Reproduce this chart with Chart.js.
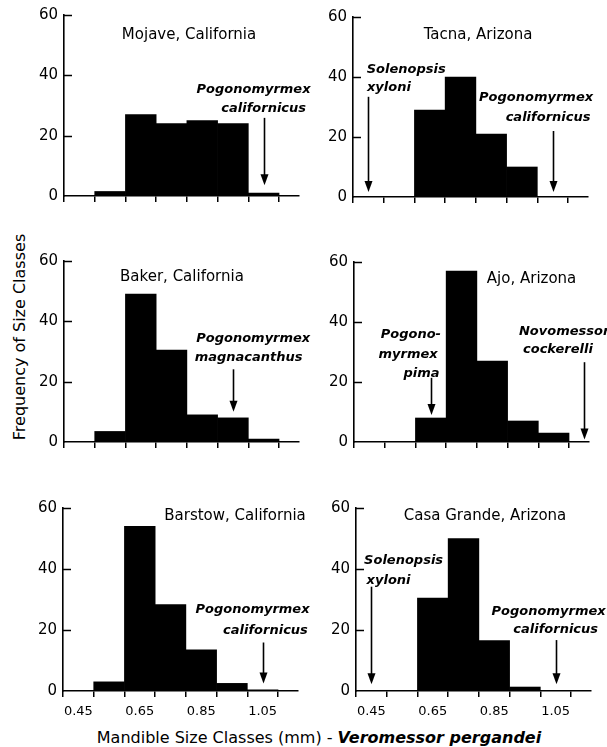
<!DOCTYPE html>
<html><head><meta charset="utf-8">
<script src="https://cdn.jsdelivr.net/npm/chart.js@4.4.1/dist/chart.umd.min.js"></script>
<style>
html,body{margin:0;padding:0;background:#fff;}
#wrap{position:relative;width:607px;height:747px;overflow:hidden;background:#fff;}
canvas{position:absolute;}
.ylab{position:absolute;left:19px;top:337px;transform:translate(-50%,-50%) rotate(-90deg);font:16px 'DejaVu Sans';white-space:nowrap;color:#000;}
.xlab{position:absolute;left:319px;top:737px;transform:translate(-50%,-50%);font:16px 'DejaVu Sans';white-space:nowrap;color:#000;}
.xlab i{font-weight:bold;}
</style></head><body>
<div id="wrap">
  <div class="ylab">Frequency of Size Classes</div>
  <div class="xlab">Mandible Size Classes (mm) - <i>Veromessor pergandei</i></div>
</div>
<script>
// ---------- data ----------
const sizeClasses = [0.55, 0.65, 0.75, 0.85, 0.95, 1.05];
const xTickValues = [0.45, 0.55, 0.65, 0.75, 0.85, 0.95, 1.05, 1.15];
const xTickLabels = ['0.45', '', '0.65', '', '0.85', '', '1.05', ''];
const yTickValues = [0, 20, 40, 60];

const mojave     = [1.5, 27, 24, 25, 24, 1];
const tacna      = [0, 29, 40, 21, 10, 0];
const baker      = [3.5, 49, 30.5, 9, 8, 1];
const ajo        = [0, 8, 57, 27, 7, 3];
const barstow    = [3, 54, 28.3, 13.5, 2.5, 0.4];
const casaGrande = [0, 30.5, 50, 16.5, 1.3, 0];

const siteNames = ['Mojave, California', 'Tacna, Arizona', 'Baker, California',
                   'Ajo, Arizona', 'Barstow, California', 'Casa Grande, Arizona'];

// mandible size (mm) of competing species, marked by arrows
const mojaveArrowX     = [1.05];
const tacnaArrowX      = [0.45, 1.05];
const bakerArrowX      = [0.95];
const ajoArrowX        = [0.65, 1.15];
const barstowArrowX    = [1.05];
const casaGrandeArrowX = [0.45, 1.05];

const mojaveArrowText     = [['Pogonomyrmex', 'californicus']];
const tacnaArrowText      = [['Solenopsis', 'xyloni'], ['Pogonomyrmex', 'californicus']];
const bakerArrowText      = [['Pogonomyrmex', 'magnacanthus']];
const ajoArrowText        = [['Pogono-', 'myrmex', 'pima'], ['Novomessor', 'cockerelli']];
const barstowArrowText    = [['Pogonomyrmex', 'californicus']];
const casaGrandeArrowText = [['Solenopsis', 'xyloni'], ['Pogonomyrmex', 'californicus']];

// ---------- layout (pixel frame of each panel, label anchors in data units) ----------
const frames = [
  {L: 64,  T: 12,  B: 196},
  {L: 353, T: 14,  B: 197},
  {L: 64,  T: 258, B: 442},
  {L: 354, T: 259, B: 442},
  {L: 63,  T: 505, B: 691},
  {L: 356, T: 505, B: 691}
];
const showXLabels = [false, false, false, false, true, true];
const titlePos = [[0.807, 53.2], [0.807, 54.1], [0.784, 54.5], [0.978, 54.2], [0.960, 57.3], [0.820, 57.3]];
// per arrow: [topValue, bottomValue, [[x,y] per text line]]
const arrowLayout = [
  [[25.9, 3.6, [[1.017, 35.1], [1.050, 28.9]]]],
  [[33.4, 1.7, [[0.573, 42.6], [0.517, 36.4]]], [22.0, 1.7, [[0.996, 33.1], [1.035, 26.6]]]],
  [[24.1, 10.0, [[1.016, 34.4], [1.001, 28.1]]]],
  [[21.4, 9.0, [[0.585, 35.8], [0.576, 29.2], [0.620, 22.8]]], [26.6, 0.8, [[1.084, 36.9], [1.064, 30.7]]]],
  [[15.9, 2.5, [[1.017, 26.7], [1.059, 19.7]]]],
  [[34.2, 2.2, [[0.555, 42.6], [0.506, 36.1]]], [16.7, 2.2, [[1.027, 26.1], [1.050, 20.2]]]]
];

const seriesList = [mojave, tacna, baker, ajo, barstow, casaGrande];
const arrowXList = [mojaveArrowX, tacnaArrowX, bakerArrowX, ajoArrowX, barstowArrowX, casaGrandeArrowX];
const arrowTextList = [mojaveArrowText, tacnaArrowText, bakerArrowText, ajoArrowText, barstowArrowText, casaGrandeArrowText];

const X_MIN = 0.40, X_MAX = 1.165;
const AREA_W = 235, Y_AXIS_W = 60, X_AXIS_H = 40, PAD_TOP = 12, PAD_RIGHT = 25;
const FONT = "'DejaVu Sans'";

const annotPlugin = {
  id: 'annot',
  afterDatasetsDraw(chart) {
    const o = chart.options.plugins.annot;
    const xs = chart.scales.x, ys = chart.scales.y, ctx = chart.ctx;
    ctx.save();
    ctx.strokeStyle = '#000'; ctx.fillStyle = '#000';
    // inward y ticks
    ctx.lineWidth = 1.5;
    yTickValues.forEach(v => {
      if (v === 0) return;
      const y = Math.round(ys.getPixelForValue(v)) + 0.5;
      ctx.beginPath(); ctx.moveTo(chart.chartArea.left - 1, y); ctx.lineTo(chart.chartArea.left + 8, y); ctx.stroke();
    });
    // title
    ctx.font = '15px ' + FONT;
    ctx.textAlign = 'center'; ctx.textBaseline = 'middle';
    ctx.fillText(o.title, xs.getPixelForValue(o.titlePos[0]), ys.getPixelForValue(o.titlePos[1]));
    // arrows + labels
    o.arrowX.forEach((ax, i) => {
      const [top, bottom, lines] = o.layout[i];
      const x = Math.round(xs.getPixelForValue(ax)) + 0.5;
      const y1 = ys.getPixelForValue(top), y2 = ys.getPixelForValue(bottom);
      ctx.lineWidth = 1.6;
      ctx.beginPath(); ctx.moveTo(x, y1); ctx.lineTo(x, y2 - 8); ctx.stroke();
      ctx.beginPath(); ctx.moveTo(x - 4, y2 - 11); ctx.lineTo(x + 4, y2 - 11); ctx.lineTo(x, y2); ctx.closePath(); ctx.fill();
      ctx.font = 'italic bold 13px ' + FONT;
      o.arrowText[i].forEach((t, j) => {
        ctx.fillText(t, xs.getPixelForValue(lines[j][0]), ys.getPixelForValue(lines[j][1]));
      });
    });
    ctx.restore();
  }
};

const wrap = document.getElementById('wrap');
frames.forEach((f, p) => {
  const cv = document.createElement('canvas');
  const w = Y_AXIS_W + AREA_W + PAD_RIGHT;
  const h = PAD_TOP + (f.B - f.T) + X_AXIS_H;
  cv.width = w; cv.height = h;
  cv.style.left = (f.L - Y_AXIS_W) + 'px';
  cv.style.top = (f.T - PAD_TOP) + 'px';
  cv.style.width = w + 'px'; cv.style.height = h + 'px';
  wrap.appendChild(cv);
  const showLab = showXLabels[p];
  new Chart(cv, {
    type: 'bar',
    data: {
      datasets: [{
        data: sizeClasses.map((c, i) => ({x: c, y: seriesList[p][i]})),
        backgroundColor: '#000', borderWidth: 0,
        barPercentage: 1.0, categoryPercentage: 1.0
      }]
    },
    options: {
      responsive: false, animation: false, devicePixelRatio: 1, events: [],
      layout: {padding: {top: PAD_TOP, right: PAD_RIGHT, left: 0, bottom: 0}},
      plugins: {
        legend: {display: false}, tooltip: {enabled: false},
        annot: {title: siteNames[p], titlePos: titlePos[p], arrowX: arrowXList[p],
                arrowText: arrowTextList[p], layout: arrowLayout[p]}
      },
      scales: {
        x: {
          type: 'linear', min: X_MIN, max: X_MAX, offset: false,
          afterBuildTicks: s => { s.ticks = xTickValues.map(v => ({value: v})); },
          afterFit: s => { s.height = X_AXIS_H; },
          ticks: {
            autoSkip: false, maxRotation: 0, padding: 7, color: '#000',
            font: {family: 'DejaVu Sans', size: 13},
            callback: (v, i) => showLab ? xTickLabels[i] : ''
          },
          grid: {drawOnChartArea: false, drawTicks: true, tickLength: 6, color: '#000', lineWidth: 1.5},
          border: {display: true, color: '#000', width: 1.6}
        },
        y: {
          min: 0, max: 60,
          afterBuildTicks: s => { s.ticks = yTickValues.map(v => ({value: v})); },
          afterFit: s => { s.width = Y_AXIS_W; },
          ticks: {padding: 6, color: '#000', font: {family: 'DejaVu Sans', size: 15}},
          grid: {drawOnChartArea: false, drawTicks: false},
          border: {display: true, color: '#000', width: 1.6}
        }
      }
    },
    plugins: [annotPlugin]
  });
});
</script>
</body></html>
